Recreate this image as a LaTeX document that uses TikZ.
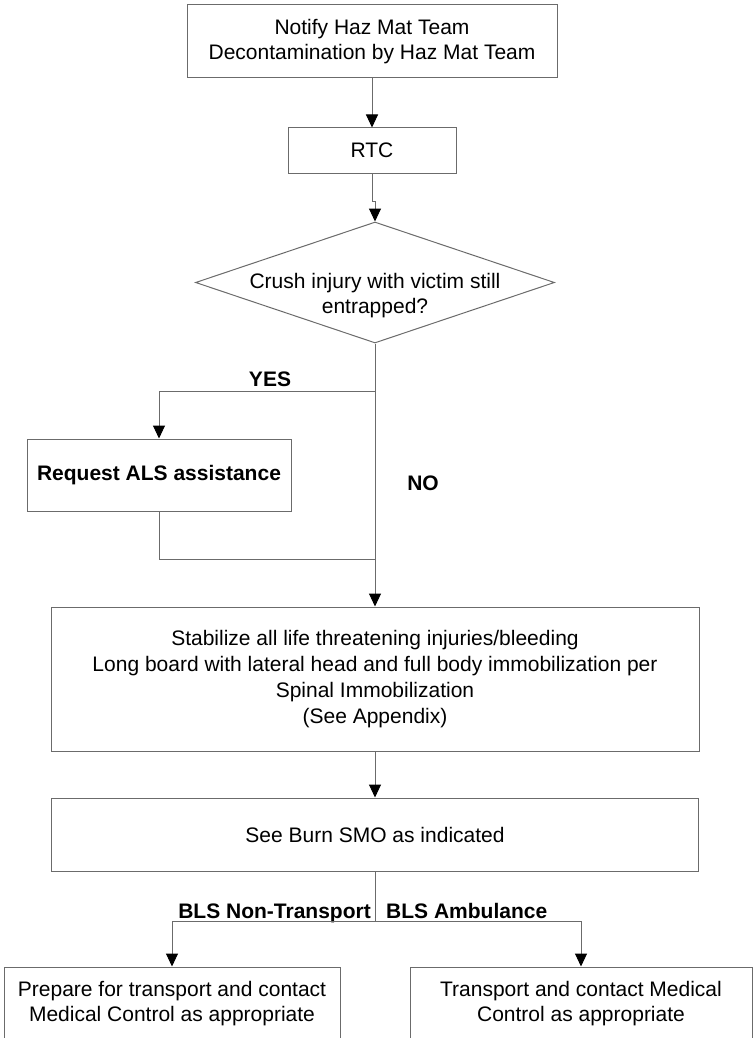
\documentclass[tikz,border=0pt]{standalone}
\usepackage{fontspec}
\setmainfont{Liberation Sans}
\usetikzlibrary{arrows.meta,shapes.geometric}
\definecolor{ln}{gray}{0.42}
\begin{document}
\begin{tikzpicture}[x=1pt,y=-1pt,
  txt/.style={align=center,font=\fontsize{21}{25}\selectfont},
  box/.style={txt,draw=ln,line width=1pt,rectangle,inner sep=0pt},
  lab/.style={font=\bfseries\fontsize{21}{25}\selectfont,inner sep=0pt},
  conn/.style={draw=ln,line width=1pt},
  arr/.style={conn,-{Triangle[width=12pt,length=13pt,color=black,fill=black]}}]
\clip (0,0) rectangle (753,1038);
\fill[white] (0,0) rectangle (753,1038);

\node[box,minimum width=370pt,minimum height=73pt] (b1) at (372,41.5)
  {Notify Haz Mat Team\\Decontamination by Haz Mat Team};
\node[box,minimum width=168pt,minimum height=45pt] (rtc) at (372,150.5) {RTC};
\node[diamond,draw=ln,line width=1pt,minimum width=359pt,minimum height=121pt,inner sep=0pt] (dia) at (375,282.5) {};
\node[txt] (diat) at (375,296) {Crush injury with victim still\\entrapped?};
\node[box,font=\bfseries\fontsize{21}{25}\selectfont,minimum width=264pt,minimum height=72pt] (als) at (159,475) {Request ALS assistance};
\node[box,font=\fontsize{21}{26}\selectfont,minimum width=648pt,minimum height=144pt] (stab) at (375,679)
  {Stabilize all life threatening injuries/bleeding\\Long board with lateral head and full body immobilization per\\Spinal Immobilization\\(See Appendix)};
\node[box,minimum width=647pt,minimum height=73pt] (burn) at (375,834.5) {See Burn SMO as indicated};
\node[box,minimum width=336pt,minimum height=74pt] (bl) at (172,1004)
  {Prepare for transport and contact\\Medical Control as appropriate};
\node[box,minimum width=342pt,minimum height=74pt] (br) at (581,1004)
  {Transport and contact Medical\\Control as appropriate};

\node[lab] (yes) at (270,379) {YES};
\node[lab] (no) at (423,483) {NO};
\node[lab,anchor=base east] (lnt) at (371,918) {BLS Non-Transport};
\node[lab,anchor=base west] (lamb) at (386,918) {BLS Ambulance};

\coordinate (ybr) at (375,391);
\coordinate (join) at (375,559);
\coordinate (bbr) at (375,921);

\draw[arr] (b1) -- (rtc);
\draw[arr] (rtc.south) -- ++(0,28) -| (dia.north);
\draw[arr] (dia.south) -- (stab.north);
\draw[arr] (ybr) -| (als.north);
\draw[conn] (als.south) |- (join);
\draw[arr] (stab) -- (burn);
\draw[conn] (burn.south) -- (bbr);
\draw[arr] (bbr) -| (bl.north);
\draw[arr] (bbr) -| (br.north);
\end{tikzpicture}
\end{document}
